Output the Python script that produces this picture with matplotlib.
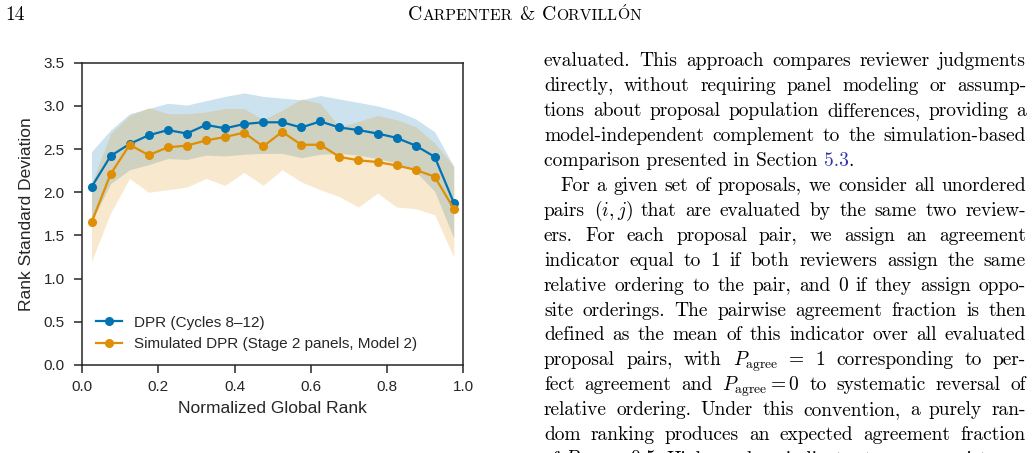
import matplotlib
matplotlib.use("Agg")
import matplotlib.pyplot as plt

W, H = 1035, 453

# bin centres of the normalized global rank
rank = [0.025, 0.075, 0.125, 0.175, 0.225, 0.275, 0.325, 0.375, 0.425, 0.475,
        0.525, 0.575, 0.625, 0.675, 0.725, 0.775, 0.825, 0.875, 0.925, 0.975]

# observed DPR
dpr_mean = [2.06, 2.42, 2.56, 2.66, 2.72, 2.68, 2.78, 2.74, 2.79, 2.81,
            2.81, 2.75, 2.82, 2.75, 2.72, 2.68, 2.63, 2.54, 2.41, 1.88]
dpr_hi = [2.47, 2.72, 2.91, 2.97, 3.03, 3.01, 3.06, 3.11, 3.15, 3.11,
          3.09, 3.07, 3.12, 3.08, 3.04, 3.00, 2.94, 2.85, 2.70, 2.30]
dpr_lo = [1.66, 2.10, 2.26, 2.32, 2.39, 2.38, 2.43, 2.42, 2.44, 2.45,
          2.45, 2.40, 2.44, 2.45, 2.43, 2.39, 2.34, 2.24, 2.01, 1.47]

# simulated DPR
sim_mean = [1.65, 2.21, 2.55, 2.43, 2.52, 2.54, 2.60, 2.64, 2.69, 2.53,
            2.70, 2.55, 2.55, 2.41, 2.37, 2.35, 2.31, 2.26, 2.18, 1.81]
sim_hi = [2.10, 2.68, 2.89, 2.98, 2.91, 2.91, 2.93, 2.97, 2.97, 2.84,
          2.95, 3.08, 3.03, 2.76, 2.82, 2.89, 2.84, 2.76, 2.57, 2.30]
sim_lo = [1.20, 1.76, 2.16, 2.00, 2.03, 2.06, 2.16, 2.08, 2.23, 2.08,
          2.26, 2.12, 2.03, 1.95, 1.83, 1.99, 1.83, 1.81, 1.74, 1.25]

labels = ['DPR (Cycles 8\u201312)', 'Simulated DPR (Stage 2 panels, Model 2)']
xticks = [0.0, 0.2, 0.4, 0.6, 0.8, 1.0]
yticks = [0.0, 0.5, 1.0, 1.5, 2.0, 2.5, 3.0, 3.5]

# page text next to the figure
para1 = [
    "evaluated. This approach compares reviewer judgments",
    "directly, without requiring panel modeling or assump-",
    "tions about proposal population differences, providing a",
    "model-independent complement to the simulation-based",
]
para1_last = ["comparison presented in Section ", "5.3", "."]
para2 = [
    "For a given set of proposals, we consider all unordered",
    "pairs $(i,j)$ that are evaluated by the same two review-",
    "ers.  For each proposal pair, we assign an agreement",
    "indicator equal to 1 if both reviewers assign the same",
    "relative ordering to the pair, and 0 if they assign oppo-",
    "site orderings. The pairwise agreement fraction is then",
    "defined as the mean of this indicator over all evaluated",
    r"proposal pairs, with $P_{\mathrm{agree}}$ = 1 corresponding to per-",
    r"fect agreement and $P_{\mathrm{agree}}=0$ to systematic reversal of",
    "relative ordering. Under this convention, a purely ran-",
    "dom ranking produces an expected agreement fraction",
    r"of $P_{\mathrm{agree}}=0.5$. Higher values indicate stronger consistency",
]

plt.rcParams['font.family'] = ['Liberation Sans', 'DejaVu Sans']
plt.rcParams['mathtext.fontset'] = 'cm'
ink = '#262626'

fig = plt.figure(figsize=(W / 100, H / 100), dpi=100)
ax = fig.add_axes([82 / W, 1 - 365 / H, (463.3 - 82) / W, (365 - 62.7) / H])

blue, orange = '#0173b2', '#de8f05'
ax.fill_between(rank, dpr_lo, dpr_hi, color=blue, alpha=0.2, lw=0)
ax.fill_between(rank, sim_lo, sim_hi, color=orange, alpha=0.2, lw=0)
ax.plot(rank, dpr_mean, '-o', color=blue, lw=1.6, ms=5.5, label=labels[0])
ax.plot(rank, sim_mean, '-o', color=orange, lw=1.6, ms=5.5, label=labels[1])

ax.set_xlim(0, 1)
ax.set_ylim(0, 3.5)
ax.set_xticks(xticks)
ax.set_yticks(yticks)
ax.set_xticklabels([f'{t:.1f}' for t in xticks])
ax.set_yticklabels([f'{t:.1f}' for t in yticks])
ax.tick_params(axis='both', direction='out', length=5.5, width=1.1,
               color=ink, labelcolor=ink, labelsize=11)
ax.tick_params(axis='y', pad=7)
ax.tick_params(axis='x', pad=5)
for s in ax.spines.values():
    s.set_linewidth(1.1)
    s.set_color(ink)
ax.set_xlabel('Normalized Global Rank', fontsize=12.5, color=ink, labelpad=5)
ax.set_ylabel('Rank Standard Deviation', fontsize=12.5, color=ink, labelpad=7)
ax.legend(loc='lower left', frameon=False, fontsize=11, handlelength=1.7,
          labelcolor=ink)

# ---- page text ----
renderer = fig.canvas.get_renderer()
serif = ['cmr10', 'DejaVu Serif']
body = dict(family=serif, fontsize=14, color='black')


def width(s, **kw):
    t = fig.text(0, 0, s, **kw)
    w = t.get_window_extent(renderer).width
    t.remove()
    return w


def put(x, y, s, **kw):
    fig.text(x / W, 1 - y / H, s, va='baseline', **kw)


def justify(y, line, x0, x1):
    words = line.split()
    ws = [width(w, **body) for w in words]
    gap = (x1 - x0 - sum(ws)) / (len(words) - 1)
    x = x0
    for w, wd in zip(words, ws):
        put(x, y, w, **body)
        x += wd + gap


left, right, indent = 544, 1026, 16
base, lead = 66.5, 24.9
space = width('x x', **body) - width('xx', **body)

row = 0
for line in para1:
    justify(base + lead * row, line, left, right)
    row += 1

# last line of the first paragraph, with the blue section link
x = left
link = '#3535a8'
for piece, col in zip(para1_last, ['black', link, 'black']):
    put(x, base + lead * row, piece.strip(), **dict(body, color=col))
    x += width(piece.strip(), **body)
    if piece.endswith(' '):
        x += space
row += 1

for i, line in enumerate(para2):
    justify(base + lead * row, line, left + (indent if i == 0 else 0), right)
    row += 1

# running head
put(5, 20.5, '14', **body)
big, small = 14.2, 11.3
head = [('C', big, 0), ('ARPENTER', small, 0), ('&', big, 1), ('C', big, 0),
        ('ORVILL', small, 0), (r'$\acute{\mathrm{O}}$', small, 0), ('N', small, 0)]
sp = width('x x', family=serif, fontsize=big) - width('xx', family=serif, fontsize=big)
total = sum(width(s, family=serif, fontsize=fs) + 2 * g * sp for s, fs, g in head)
x = 525 - total / 2
for s, fs, g in head:
    x += g * sp
    put(x, 20.5, s, family=serif, fontsize=fs, color='black')
    x += width(s, family=serif, fontsize=fs) + g * sp

fig.savefig('out.png', dpi=100)
